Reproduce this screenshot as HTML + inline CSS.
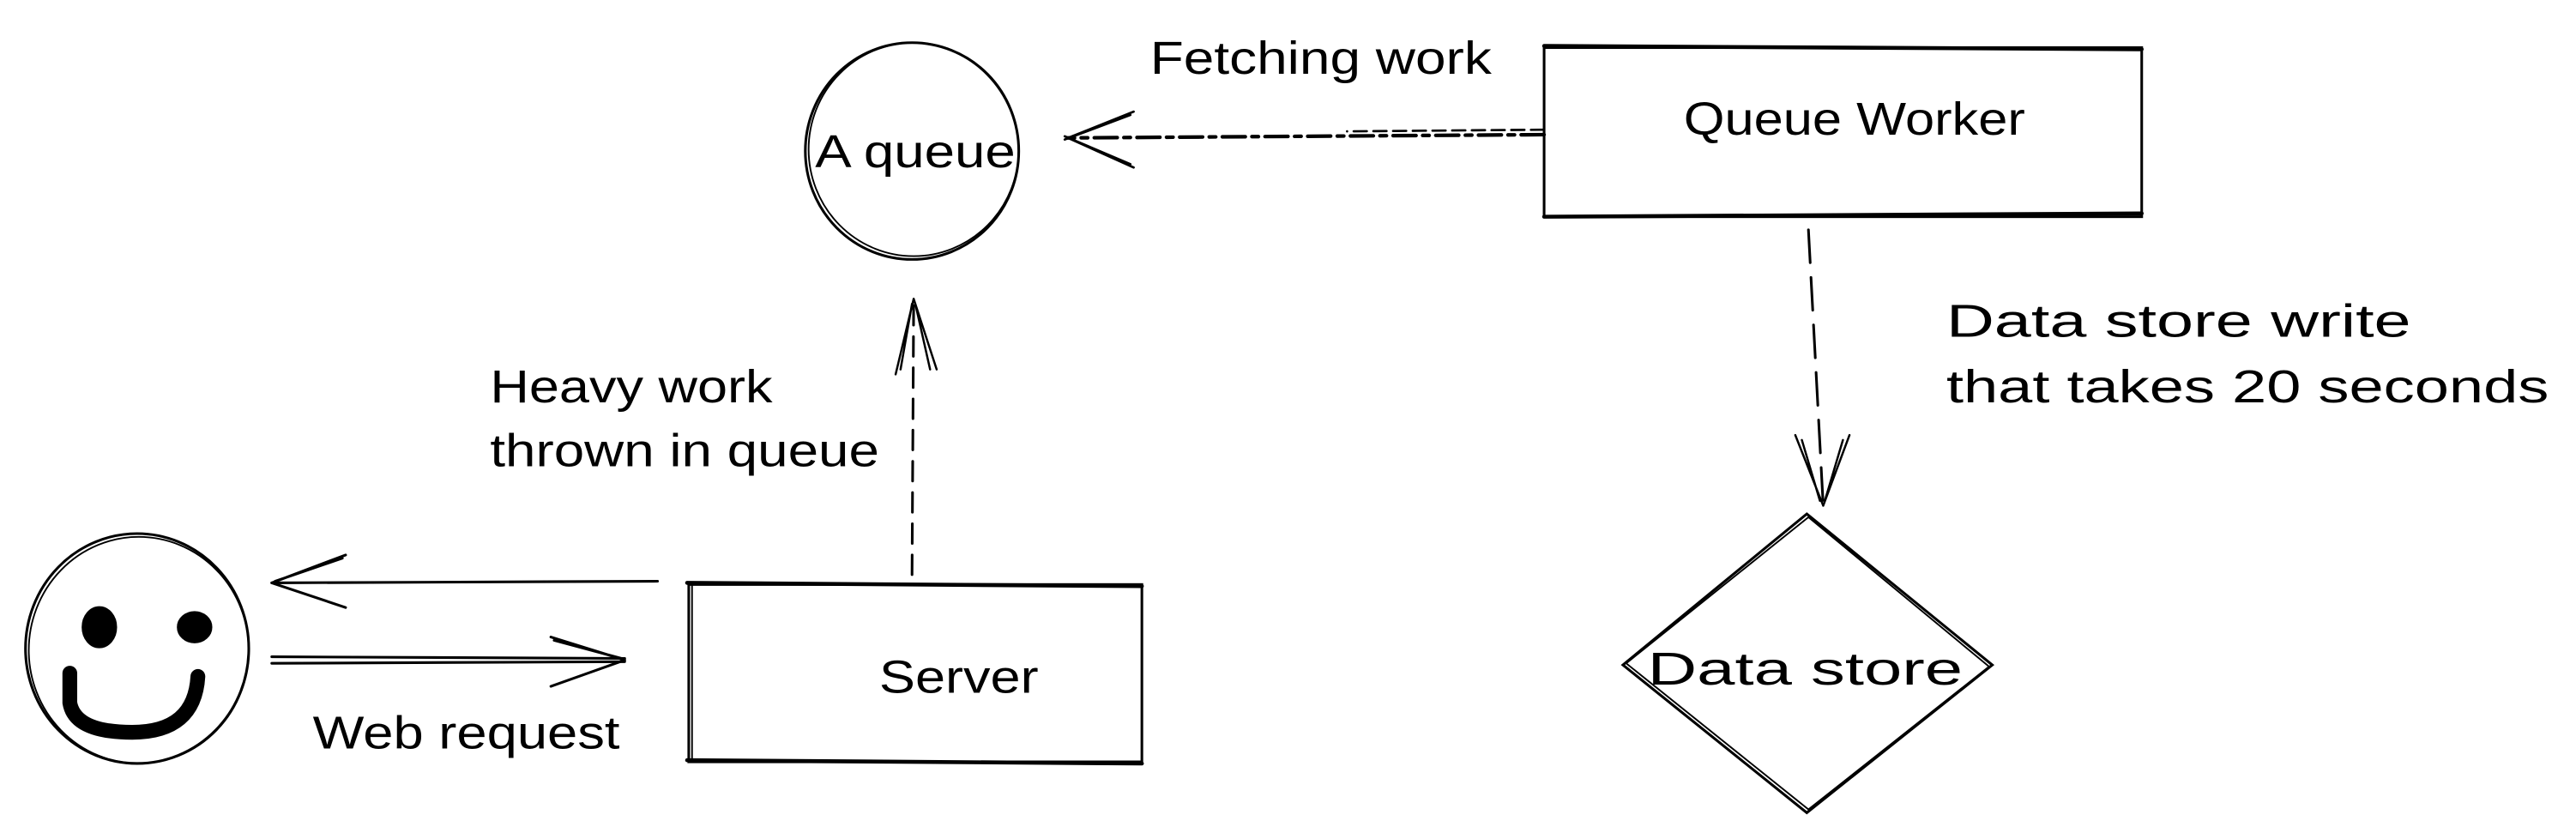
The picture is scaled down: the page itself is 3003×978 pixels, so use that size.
<!DOCTYPE html>
<html><head><meta charset="utf-8"><style>
html,body{margin:0;padding:0;background:#fff;}
svg{display:block;}
text{font-family:"Liberation Sans",sans-serif;font-size:28px;fill:#000;}
</style></head><body>
<svg width="3003" height="978" viewBox="0 0 1568 511" xmlns="http://www.w3.org/2000/svg">
<g fill="none" stroke="#000" stroke-width="1.6" stroke-linecap="round">
<ellipse cx="555" cy="92" rx="65" ry="66"/>
<ellipse cx="556" cy="91" rx="64" ry="65" stroke-width="1"/>
<rect x="940" y="29" width="364" height="103"/>
<line x1="940" y1="28" x2="1304" y2="30" stroke-width="2.4"/>
<line x1="940" y1="132" x2="1304" y2="130" stroke-width="2.4"/>
<line x1="940" y1="82" x2="650" y2="84" stroke-width="2.2" stroke-dasharray="14 4 4 4"/>
<line x1="940" y1="79" x2="820" y2="80" stroke-width="1.4" stroke-dasharray="8 4"/>
<path d="M650 84 L690 68 M650 84 L690 102 M648 85 L688 70 M648 83 L688 100" stroke-width="1.4"/>
<line x1="555" y1="350" x2="556" y2="182" stroke-dasharray="12 7"/>
<path d="M556 182 L545 228 M556 182 L570 225 M555 185 L548 225 M557 185 L566 225" stroke-width="1.3"/>
<ellipse cx="83" cy="395" rx="68" ry="70"/>
<ellipse cx="84" cy="396" rx="67" ry="69" stroke-width="1"/>
<ellipse cx="60" cy="382" rx="10" ry="12" fill="#000"/>
<ellipse cx="118" cy="382" rx="10" ry="9" fill="#000"/>
<path d="M42 410 L42 428 Q45 446 80 446 Q118 446 120 412" stroke-width="9"/>
<line x1="400" y1="354" x2="165" y2="355"/>
<path d="M165 355 L210 338 M165 355 L210 370 M167 354 L208 340"/>
<line x1="165" y1="400" x2="380" y2="401"/>
<line x1="165" y1="404" x2="380" y2="403"/>
<path d="M380 402 L335 388 M380 402 L335 418 M378 401 L337 390"/>
<rect x="419" y="356" width="276" height="108"/>
<line x1="418" y1="355" x2="695" y2="357" stroke-width="2.4"/>
<line x1="418" y1="463" x2="695" y2="465" stroke-width="2.4"/>
<line x1="421" y1="356" x2="421" y2="464" stroke-width="1"/>
<line x1="1101" y1="140" x2="1110" y2="308" stroke-dasharray="20 9"/>
<path d="M1110 308 L1093 265 M1110 308 L1126 265 M1108 305 L1097 268 M1111 305 L1122 268" stroke-width="1.3"/>
<path d="M1100 313 L1213 405 L1100 495 L988 405 Z"/>
<path d="M1101 315 L1211 406 L1101 493 L990 404 Z" stroke-width="1"/>
</g>
<text x="700" y="45" textLength="208" lengthAdjust="spacingAndGlyphs">Fetching work</text>
<text x="1025" y="82" textLength="208" lengthAdjust="spacingAndGlyphs">Queue Worker</text>
<text x="496" y="102" textLength="122" lengthAdjust="spacingAndGlyphs">A queue</text>
<text x="298" y="245" textLength="172" lengthAdjust="spacingAndGlyphs">Heavy work</text>
<text x="298" y="284" textLength="237" lengthAdjust="spacingAndGlyphs">thrown in queue</text>
<text x="190" y="456" textLength="187" lengthAdjust="spacingAndGlyphs">Web request</text>
<text x="535" y="422" textLength="97" lengthAdjust="spacingAndGlyphs">Server</text>
<text x="1185" y="205" textLength="283" lengthAdjust="spacingAndGlyphs">Data store write</text>
<text x="1185" y="245" textLength="367" lengthAdjust="spacingAndGlyphs">that takes 20 seconds</text>
<text x="1003" y="417" textLength="192" lengthAdjust="spacingAndGlyphs">Data store</text>
</svg>
</body></html>
